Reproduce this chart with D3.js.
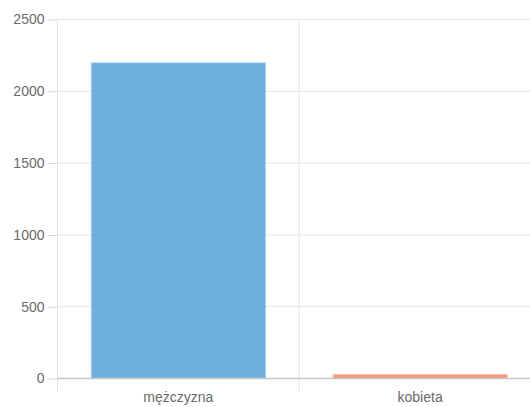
<!DOCTYPE html>
<html><head><meta charset="utf-8">
<script src="https://cdn.jsdelivr.net/npm/d3@7"></script>
<style>html,body{margin:0;padding:0;background:#fff;overflow:hidden}</style>
</head><body>
<svg id="c" width="530" height="407"></svg>
<script>
const categories = ["mężczyzna", "kobieta"];
const values = [2198, 28];
const yTicks = [0, 500, 1000, 1500, 2000, 2500];
const fills = ["rgba(75,156,211,0.8)", "rgba(235,130,95,0.8)"];
const strokes = ["rgba(150,200,235,0.7)", "rgba(245,180,160,0.7)"];

const svg = d3.select("#c");
const pLeft = 57.5, pRight = 541, pTop = 19.5, pBottom = 378.5;
const x = d3.scaleBand().domain(categories).range([pLeft, pRight]).paddingInner(0).paddingOuter(0);
const y = d3.scaleLinear().domain([0, 2500]).range([pBottom, pTop]);
const font = "'Liberation Sans', Arial, sans-serif";

// y axis ticks and labels
const yAxis = d3.axisLeft(y).tickValues(yTicks).tickSize(10).tickPadding(3).tickFormat(d3.format("d"));
const gy = svg.append("g").attr("transform", `translate(${pLeft},0)`).call(yAxis);
gy.select(".domain").remove();
gy.selectAll(".tick line").attr("stroke", "#d6d6d6");
gy.selectAll(".tick text").attr("fill", "#6a6a6a").style("font-family", font).style("font-size", "14px");

// horizontal grid
svg.append("g").selectAll("line").data(yTicks.filter(d => d > 0)).join("line")
  .attr("x1", pLeft).attr("x2", pRight).attr("y1", d => y(d)).attr("y2", d => y(d))
  .attr("stroke", "#e6e6e6").attr("stroke-width", 1);

// vertical grid at category boundaries
const bounds = [pLeft, ...categories.slice(1).map(c => x(c))];
svg.append("g").selectAll("line").data(bounds).join("line")
  .attr("x1", d => d).attr("x2", d => d).attr("y1", pTop).attr("y2", pBottom + 13)
  .attr("stroke", "#e3e3e3").attr("stroke-width", 1);

// bars
const bw = x.bandwidth() * 0.72;
svg.append("g").selectAll("rect").data(categories).join("rect")
  .attr("x", c => x(c) + (x.bandwidth() - bw) / 2)
  .attr("width", bw)
  .attr("y", (c, i) => y(values[i]))
  .attr("height", (c, i) => pBottom - y(values[i]))
  .attr("fill", (c, i) => fills[i])
  .attr("stroke", (c, i) => strokes[i])
  .attr("stroke-width", 1);

// zero axis line
svg.append("line").attr("x1", pLeft).attr("x2", pRight).attr("y1", y(0)).attr("y2", y(0))
  .attr("stroke", "#c8c8c8").attr("stroke-width", 1.5);

// x labels
const xAxis = d3.axisBottom(x).tickSize(0).tickPadding(14);
const gx = svg.append("g").attr("transform", `translate(0,${pBottom})`).call(xAxis);
gx.select(".domain").remove();
gx.selectAll(".tick text").attr("fill", "#6a6a6a").style("font-family", font).style("font-size", "14px");
</script>
</body></html>
